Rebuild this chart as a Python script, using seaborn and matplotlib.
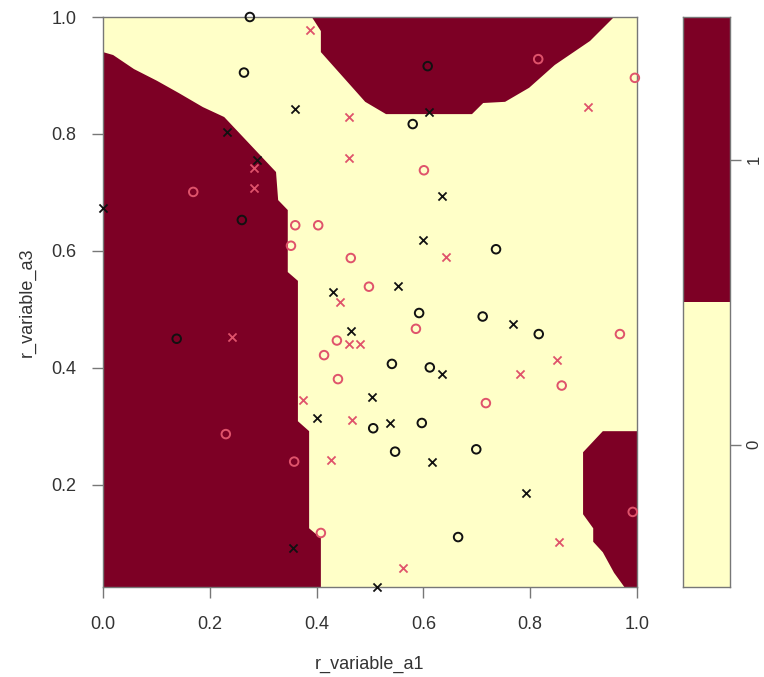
import numpy as np
import pandas as pd
import matplotlib
matplotlib.use("Agg")
import matplotlib.pyplot as plt
import seaborn as sns

# ---------------- data ----------------
# class labels and their colours (SVM decision regions)
class_labels = ["0", "1"]
class_colors = ["#FFFFC8", "#7D0025"]

# outlines of the class-"1" decision regions (data coordinates)
left_x = [0.0, 0.019, 0.058, 0.101, 0.142, 0.187, 0.227, 0.324, 0.328, 0.346,
          0.346, 0.365, 0.365, 0.386, 0.386, 0.408, 0.408, 0.0]
left_y = [0.940, 0.935, 0.911, 0.891, 0.870, 0.846, 0.829, 0.735, 0.687, 0.670,
          0.564, 0.549, 0.309, 0.292, 0.126, 0.109, 0.0, 0.0]

top_x = [0.391, 0.408, 0.408, 0.491, 0.530, 0.691, 0.712, 0.753, 0.798, 0.846,
         0.912, 0.957]
top_y = [1.0, 0.976, 0.940, 0.855, 0.834, 0.834, 0.853, 0.855, 0.879, 0.918,
         0.959, 1.0]

br_x = [1.0, 0.936, 0.899, 0.899, 0.918, 0.918, 0.936, 0.957, 0.976, 0.985, 1.0]
br_y = [0.292, 0.292, 0.256, 0.150, 0.126, 0.103, 0.085, 0.050, 0.026, 0.0, 0.0]

# observations: class 0 (black), class 1 (red); "o" = data, "x" = support vector
black_o_x = [0.275, 0.264, 0.608, 0.580, 0.260, 0.138, 0.592, 0.541, 0.612,
             0.736, 0.711, 0.816, 0.506, 0.597, 0.547, 0.699, 0.665]
black_o_y = [1.000, 0.905, 0.916, 0.817, 0.653, 0.450, 0.494, 0.407, 0.401,
             0.603, 0.488, 0.458, 0.297, 0.306, 0.257, 0.261, 0.111]

black_x_x = [0.000, 0.232, 0.288, 0.360, 0.610, 0.634, 0.599, 0.430, 0.552,
             0.464, 0.767, 0.635, 0.503, 0.401, 0.537, 0.616, 0.792, 0.355, 0.513]
black_x_y = [0.674, 0.803, 0.756, 0.843, 0.838, 0.694, 0.619, 0.530, 0.540,
             0.464, 0.475, 0.390, 0.350, 0.315, 0.306, 0.240, 0.186, 0.092, 0.026]

red_o_x = [0.815, 0.996, 0.601, 0.169, 0.360, 0.403, 0.352, 0.464, 0.498, 0.586,
           0.438, 0.414, 0.440, 0.968, 0.859, 0.717, 0.230, 0.358, 0.408, 0.992]
red_o_y = [0.928, 0.896, 0.738, 0.701, 0.644, 0.644, 0.609, 0.588, 0.539, 0.467,
           0.447, 0.422, 0.381, 0.458, 0.370, 0.340, 0.287, 0.240, 0.118, 0.154]

red_x_x = [0.388, 0.461, 0.461, 0.908, 0.283, 0.283, 0.642, 0.444, 0.461, 0.481,
           0.242, 0.374, 0.466, 0.427, 0.850, 0.781, 0.853, 0.561]
red_x_y = [0.977, 0.829, 0.759, 0.847, 0.742, 0.708, 0.590, 0.513, 0.441, 0.441,
           0.453, 0.345, 0.311, 0.242, 0.414, 0.390, 0.102, 0.058]

x_ticks = [0.0, 0.2, 0.4, 0.6, 0.8, 1.0]
y_ticks = [0.2, 0.4, 0.6, 0.8, 1.0]

# ---------------- style ----------------
sns.set_theme(style="white")
plt.rcParams['font.family'] = ['Liberation Sans', 'DejaVu Sans']

W, H = 764, 677
fig = plt.figure(figsize=(W / 100, H / 100), dpi=100)
ax = fig.add_axes([103 / W, 1 - 587 / H, 534 / W, 570 / H])
cax = fig.add_axes([683 / W, 1 - 587 / H, 47 / W, 570 / H])

ax.set_facecolor(class_colors[0])
for px, py in [(left_x, left_y), (top_x, top_y), (br_x, br_y)]:
    ax.fill(px, py, color=class_colors[1], lw=0, zorder=1)

red = "#DF536B"
sns.scatterplot(x=black_o_x, y=black_o_y, ax=ax, marker="o", s=38,
                color="black", facecolor="none", edgecolor="#111111",
                linewidth=1.4, zorder=3, clip_on=False)
sns.scatterplot(x=red_o_x, y=red_o_y, ax=ax, marker="o", s=38,
                color=red, facecolor="none", edgecolor=red,
                linewidth=1.4, zorder=3, clip_on=False)
sns.scatterplot(x=black_x_x, y=black_x_y, ax=ax, marker="x", s=34,
                color="#111111", linewidth=1.3, zorder=3, clip_on=False)
sns.scatterplot(x=red_x_x, y=red_x_y, ax=ax, marker="x", s=34,
                color=red, linewidth=1.3, zorder=3, clip_on=False)

ax.set_xlim(0.0, 1.0)
ax.set_ylim(0.02564, 1.0)
ax.set_xticks(x_ticks)
ax.set_yticks(y_ticks)
ax.set_xticklabels([f"{v:.1f}" for v in x_ticks])
ax.set_yticklabels([f"{v:.1f}" for v in y_ticks])
ax.tick_params(axis="both", bottom=True, left=True, direction="out", length=8,
               width=1, color="#777777", labelsize=13, labelcolor="#333333")
ax.tick_params(axis="x", pad=13)
ax.tick_params(axis="y", pad=11)
ax.set_xlabel("r_variable_a1", fontsize=13, color="#333333", labelpad=16)
ax.set_ylabel("r_variable_a3", fontsize=13, color="#333333", labelpad=11)
for sp in ax.spines.values():
    sp.set_visible(True)
    sp.set_color("#777777")
    sp.set_linewidth(1)

# key (colour legend)
for i, (lab, col) in enumerate(zip(class_labels, class_colors)):
    cax.bar(0, 1, bottom=i, width=1, color=col, edgecolor="none")
cax.set_xlim(-0.5, 0.5)
cax.set_ylim(0, 2)
cax.set_xticks([])
cax.set_yticks([0.5, 1.5])
cax.set_yticklabels(class_labels, rotation=90, va="center")
cax.yaxis.tick_right()
cax.tick_params(axis="y", right=True, left=False, direction="out", length=8,
                width=1, color="#777777", labelsize=12, labelcolor="#333333", pad=4)
for sp in cax.spines.values():
    sp.set_visible(True)
    sp.set_color("#777777")
    sp.set_linewidth(1)

fig.savefig("out.png", dpi=100)
